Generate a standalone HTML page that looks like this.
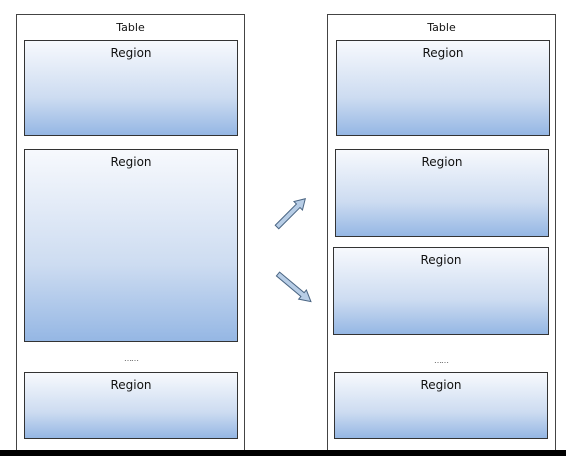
<!DOCTYPE html>
<html><head><meta charset="utf-8"><style>
html,body{margin:0;padding:0;background:#fff;}
body{width:566px;height:456px;position:relative;overflow:hidden;font-family:"DejaVu Sans","Liberation Sans",sans-serif;}
.table{position:absolute;border:1px solid #444;background:#fff;box-sizing:border-box;}
.tl{position:absolute;left:0;right:0;text-align:center;font-size:11px;color:#111;}
.region{position:absolute;border:1px solid #333;box-sizing:border-box;background:linear-gradient(#f7f9fd,#cddcf1 60%,#95b7e4);text-align:center;font-size:12px;color:#111;padding-top:5px;}
.dots{position:absolute;text-align:center;font-size:8px;color:#555;letter-spacing:-1px;}
</style></head><body>
<div class="table" style="left:16px;top:14px;width:229px;height:437px;"></div>
<div class="tl" style="left:16px;width:229px;top:21px;right:auto;">Table</div>
<div class="region" style="left:24px;top:40px;width:214px;height:96px;">Region</div>
<div class="region" style="left:24px;top:149px;width:214px;height:193px;">Region</div>
<div class="dots" style="left:24px;width:214px;top:354px;">……</div>
<div class="region" style="left:24px;top:372px;width:214px;height:67px;">Region</div>

<div class="table" style="left:327px;top:14px;width:229px;height:437px;"></div>
<div class="tl" style="left:327px;width:229px;top:21px;right:auto;">Table</div>
<div class="region" style="left:336px;top:40px;width:214px;height:96px;">Region</div>
<div class="region" style="left:335px;top:149px;width:214px;height:88px;">Region</div>
<div class="region" style="left:333px;top:247px;width:216px;height:88px;">Region</div>
<div class="dots" style="left:334px;width:214px;top:356px;">……</div>
<div class="region" style="left:334px;top:372px;width:214px;height:67px;">Region</div>

<svg width="566" height="456" style="position:absolute;left:0;top:0;">
<g transform="translate(277,227) rotate(-45)">
<polygon points="0,-2.5 30,-2.5 30,-6 40,0 30,6 30,2.5 0,2.5" fill="#b7cde6" stroke="#4a6583" stroke-width="1"/>
</g>
<g transform="translate(278,274) rotate(40)">
<polygon points="0,-2.5 32,-2.5 32,-6 43,0 32,6 32,2.5 0,2.5" fill="#b7cde6" stroke="#4a6583" stroke-width="1"/>
</g>
</svg>
<div style="position:absolute;left:0;top:450px;width:566px;height:6px;background:#000;"></div>
</body></html>
